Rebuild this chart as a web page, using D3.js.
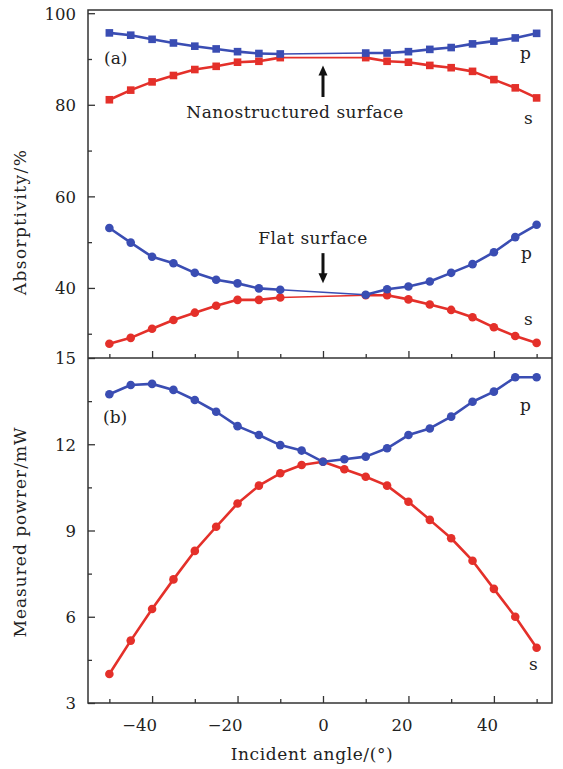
<!DOCTYPE html>
<html><head><meta charset="utf-8">
<script src="https://cdn.jsdelivr.net/npm/d3@7"></script>
<style>
html,body{margin:0;padding:0;background:#fff;}
svg text{font-family:"DejaVu Serif","Liberation Serif",serif;fill:#222;}
</style></head>
<body><svg id="c" width="563" height="769"></svg>
<script>
// ---- data ----
const angles = [-50,-45,-40,-35,-30,-25,-20,-15,-10,-5,0,5,10,15,20,25,30,35,40,45,50];
const nanoAngles = [-50,-45,-40,-35,-30,-25,-20,-15,-10,10,15,20,25,30,35,40,45,50];
const nanoP = [95.7,95.2,94.3,93.5,92.8,92.2,91.6,91.2,91.1,91.3,91.3,91.6,92.1,92.5,93.3,93.9,94.6,95.6];
const nanoS = [81.1,83.2,85.0,86.4,87.7,88.4,89.3,89.5,90.3,90.3,89.5,89.3,88.6,88.1,87.3,85.5,83.7,81.5];
const flatAngles = [-50,-45,-40,-35,-30,-25,-20,-15,-10,10,15,20,25,30,35,40,45,50];
const flatP = [53.1,49.9,46.8,45.4,43.3,41.8,41.0,39.9,39.6,38.5,39.7,40.3,41.4,43.3,45.2,47.8,51.1,53.8];
const flatS = [27.8,29.1,31.1,33.0,34.6,36.1,37.4,37.4,37.9,38.4,38.4,37.5,36.4,35.2,33.6,31.4,29.5,28.0];
const powerP = [13.74,14.06,14.1,13.89,13.54,13.13,12.63,12.32,11.97,11.78,11.39,11.48,11.57,11.86,12.32,12.55,12.96,13.48,13.83,14.33,14.33];
const powerS = [4.01,5.17,6.27,7.30,8.29,9.13,9.94,10.56,10.99,11.28,11.39,11.13,10.87,10.56,10.0,9.37,8.73,7.95,6.97,6.0,4.92];
const xMajorTicks = [-40,-20,0,20,40];
const xMinorTicks = [-50,-30,-10,10,30,50];
const topMajorTicks = [40,60,80,100];
const topMinorTicks = [30,50,70,90];
const botMajorTicks = [3,6,9,12,15];
const botMinorTicks = [4.5,7.5,10.5,13.5];
const labels = {xTitle:"Incident angle/(°)", topY:"Absorptivity/%", botY:"Measured powrer/mW",
  nano:"Nanostructured surface", flat:"Flat surface", a:"(a)", b:"(b)", p:"p", s:"s"};
// annotation arrows: [angle, from value, to value]
const nanoArrow = [0, 81.7, 88.6];
const flatArrow = [0, 47.6, 41.0];

// ---- layout ----
const L=88, R=552, T=10, MID=358, B=703;
const BLUE="#3a4db3", RED="#e4302a", FRAME="#333";
const svg=d3.select("#c");
const x=d3.scaleLinear().domain([-55,53.6]).range([L,R]);
const yT=d3.scaleLinear().domain([24.7,100.7]).range([MID,T]);
const yB=d3.scaleLinear().domain([3,15]).range([B,MID]);

function fmtX(d){ return d<0 ? "\u2212"+Math.abs(d) : String(d); }

// x axes (inward ticks)
function xAxes(yPos, withLabels){
  const gM=svg.append("g").attr("transform",`translate(0,${yPos})`)
    .call(d3.axisBottom(x).tickValues(xMajorTicks).tickSizeInner(-7).tickSizeOuter(0).tickPadding(16).tickFormat(withLabels?fmtX:""));
  const gm=svg.append("g").attr("transform",`translate(0,${yPos})`)
    .call(d3.axisBottom(x).tickValues(xMinorTicks).tickSizeInner(-4).tickSizeOuter(0).tickFormat(""));
  [gM,gm].forEach(g=>{g.select(".domain").remove(); g.selectAll("line").attr("stroke",FRAME).attr("stroke-width",1.3);});
  gM.selectAll("text").attr("font-size",16.5).attr("dx",d=>d<0?-13:(d>0?-7:0));
}
xAxes(MID,false);
xAxes(B,true);

function yAxes(scale, major, minor){
  const gM=svg.append("g").attr("transform",`translate(${L},0)`)
    .call(d3.axisLeft(scale).tickValues(major).tickSizeInner(-7).tickSizeOuter(0).tickPadding(12));
  const gm=svg.append("g").attr("transform",`translate(${L},0)`)
    .call(d3.axisLeft(scale).tickValues(minor).tickSizeInner(-4).tickSizeOuter(0).tickFormat(""));
  [gM,gm].forEach(g=>{g.select(".domain").remove(); g.selectAll("line").attr("stroke",FRAME).attr("stroke-width",1.3);});
  gM.selectAll("text").attr("font-size",16.5).attr("dy","0.36em");
}
yAxes(yT, topMajorTicks, topMinorTicks);
yAxes(yB, botMajorTicks, botMinorTicks);

// frame
svg.append("rect").attr("x",L).attr("y",T).attr("width",R-L).attr("height",B-T)
  .attr("fill","none").attr("stroke",FRAME).attr("stroke-width",1.5);
svg.append("line").attr("x1",L).attr("x2",R).attr("y1",MID).attr("y2",MID)
  .attr("stroke",FRAME).attr("stroke-width",1.5);

// series
function series(xs, ys, yScale, color, shape){
  const data=xs.map((a,i)=>[a,ys[i]]);
  const segs=d3.pairs(data);
  svg.append("g").selectAll("line").data(segs).join("line")
    .attr("x1",d=>x(d[0][0])).attr("y1",d=>yScale(d[0][1]))
    .attr("x2",d=>x(d[1][0])).attr("y2",d=>yScale(d[1][1]))
    .attr("stroke",color).attr("stroke-linecap","round")
    .attr("stroke-width",d=>(d[1][0]-d[0][0])>5?1.6:2.6);
  if(shape==="square"){
    svg.append("g").selectAll("rect").data(data).join("rect")
      .attr("x",d=>x(d[0])-3.8).attr("y",d=>yScale(d[1])-3.8).attr("width",7.6).attr("height",7.6)
      .attr("fill",color);
  } else {
    svg.append("g").selectAll("circle").data(data).join("circle")
      .attr("cx",d=>x(d[0])).attr("cy",d=>yScale(d[1])).attr("r",4.3).attr("fill",color);
  }
}
series(nanoAngles,nanoS,yT,RED,"square");
series(nanoAngles,nanoP,yT,BLUE,"square");
series(flatAngles,flatS,yT,RED,"circle");
series(flatAngles,flatP,yT,BLUE,"circle");
series(angles,powerS,yB,RED,"circle");
series(angles,powerP,yB,BLUE,"circle");

// arrows
function arrow(a, yScale){
  const x0=x(a[0]), y1=yScale(a[1]), y2=yScale(a[2]);
  const dir=Math.sign(y2-y1);
  svg.append("line").attr("x1",x0).attr("x2",x0).attr("y1",y1).attr("y2",y2-dir*8)
    .attr("stroke","#111").attr("stroke-width",3);
  svg.append("path").attr("d",`M${x0-4.5},${y2-dir*10}L${x0+4.5},${y2-dir*10}L${x0},${y2}Z`).attr("fill","#111");
}
arrow(nanoArrow,yT);
arrow(flatArrow,yT);

// texts
function txt(t,xp,yp,size,anchor,ls){
  return svg.append("text").text(t).attr("x",xp).attr("y",yp).attr("font-size",size)
    .attr("text-anchor",anchor||"start").attr("letter-spacing",ls||0);
}
txt(labels.nano,295,118,17,"middle",0.5);
txt(labels.flat,313,244,17,"middle",0.5);
txt(labels.a,104,64,17);
txt(labels.b,103,423,17);
txt(labels.p,520,59,17);
txt(labels.s,524,124,17);
txt(labels.p,521,259,17);
txt(labels.s,524,325,17);
txt(labels.p,520,411,17);
txt(labels.s,529,670,17);
txt(labels.xTitle,312,760,17,"middle",0.6);
svg.append("text").text(labels.topY).attr("font-size",17).attr("text-anchor","middle").attr("letter-spacing",1.4)
  .attr("transform","translate(26,222) rotate(-90)");
svg.append("text").text(labels.botY).attr("font-size",17).attr("text-anchor","middle").attr("letter-spacing",1.0)
  .attr("transform","translate(26,532) rotate(-90)");
</script></body></html>
